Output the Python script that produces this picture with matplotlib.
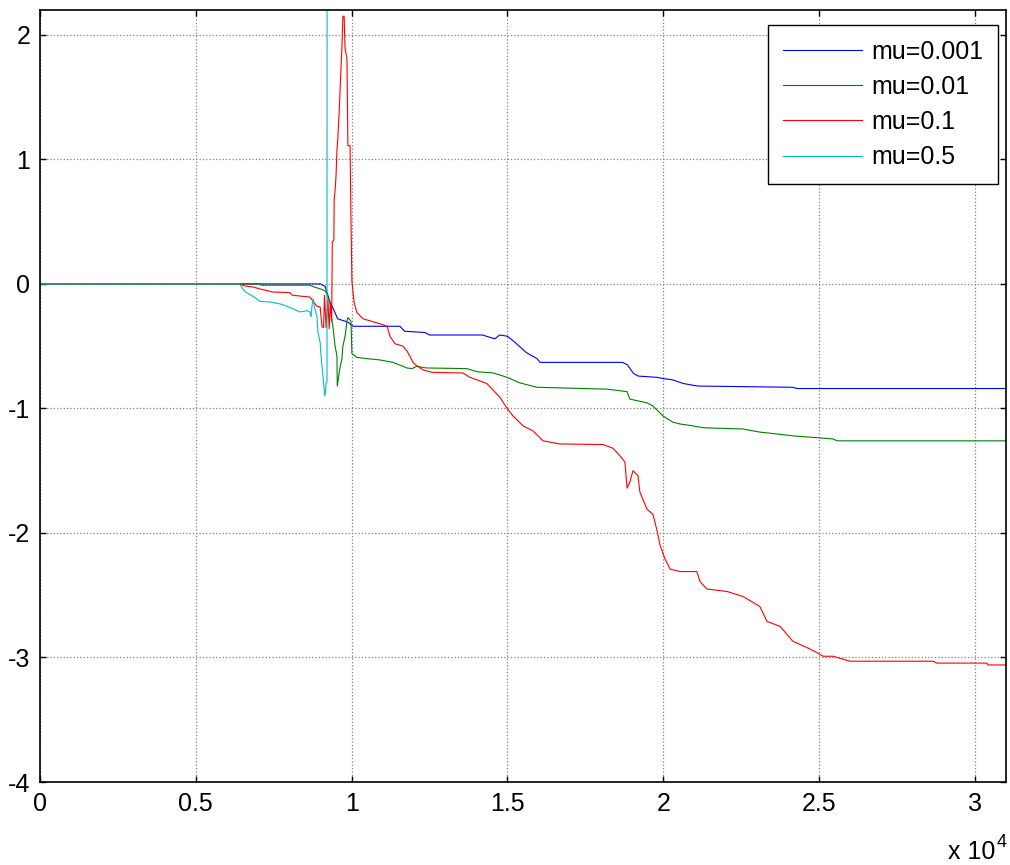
import matplotlib
matplotlib.use("Agg")
import matplotlib.pyplot as plt

plt.rcParams["font.family"] = ["Liberation Sans", "DejaVu Sans"]
plt.rcParams["axes.unicode_minus"] = False

# series (x in samples, y in value)
x_001 = [0, 9000, 9150, 9300, 9450, 9550, 9800, 9900, 10050, 11550, 11700, 12350, 12500,
         14200, 14450, 14600, 14750, 15000, 15200, 15600, 15950, 16050, 18700, 18850, 19050,
         19200, 19800, 20000, 20300, 20650, 21100, 24150, 24300, 31000]
y_001 = [0, 0, -0.02, -0.14, -0.22, -0.28, -0.30, -0.31, -0.34, -0.34, -0.38, -0.39, -0.41,
         -0.41, -0.43, -0.44, -0.41, -0.42, -0.46, -0.55, -0.60, -0.63, -0.63, -0.65, -0.72,
         -0.74, -0.75, -0.76, -0.77, -0.80, -0.82, -0.83, -0.84, -0.84]

x_01 = [0, 7050, 7100, 8650, 8800, 9000, 9150, 9200, 9300, 9370, 9400, 9470, 9530, 9540,
        9620, 9690, 9720, 9790, 9850, 9880, 9980, 10010, 10170, 10500, 10900, 11330, 11780,
        11940, 12100, 12260, 12420, 13700, 14020, 14540, 14990, 15400, 15950, 18200, 18840,
        18930, 19480, 19670, 19990, 20310, 20540, 20960, 21280, 22560, 23100, 23650, 24160,
        25450, 25580, 31000]
y_01 = [0, 0, -0.01, -0.01, -0.025, -0.04, -0.055, -0.08, -0.14, -0.30, -0.34, -0.50, -0.58,
        -0.82, -0.68, -0.60, -0.50, -0.42, -0.30, -0.27, -0.30, -0.56, -0.59, -0.60, -0.61,
        -0.63, -0.675, -0.68, -0.66, -0.67, -0.675, -0.68, -0.705, -0.715, -0.75, -0.795,
        -0.83, -0.845, -0.865, -0.925, -0.955, -0.98, -1.06, -1.11, -1.125, -1.14, -1.155,
        -1.165, -1.19, -1.205, -1.22, -1.245, -1.26, -1.26]

x_1 = [0, 6400, 6550, 6850, 7050, 7480, 8020, 8090, 8440, 8660, 8890, 8990, 9050, 9100,
       9130, 9180, 9240, 9280, 9320, 9360, 9380, 9430, 9440, 9470, 9500, 9530, 9560, 9600,
       9690, 9720, 9760, 9790, 9850, 9880, 9950, 9980, 10010, 10080, 10170, 10370, 10910,
       11140, 11230, 11390, 11650, 11780, 11870, 11970, 12100, 12290, 12580, 13570, 13800,
       14340, 14760, 14990, 15180, 15500, 15820, 16140, 16690, 18070, 18390, 18610, 18770,
       18840, 18930, 19030, 19190, 19250, 19480, 19670, 19800, 19900, 20060, 20220, 20540,
       21080, 21180, 21400, 22050, 22560, 23100, 23330, 23750, 24160, 24610, 24930, 25130,
       25450, 25990, 28660, 28780, 30390, 30420, 31000]
y_1 = [0, 0, -0.015, -0.025, -0.04, -0.065, -0.07, -0.09, -0.10, -0.105, -0.18, -0.185,
       -0.345, -0.35, -0.09, -0.35, -0.12, -0.36, -0.15, -0.30, 0.34, 0.35, 0.68, 0.75, 0.87,
       1.08, 1.18, 1.38, 1.91, 2.15, 2.15, 1.89, 1.81, 1.11, 1.11, 0.50, 0.02, -0.15, -0.23,
       -0.28, -0.32, -0.34, -0.42, -0.48, -0.50, -0.54, -0.58, -0.63, -0.66, -0.69, -0.71,
       -0.715, -0.75, -0.80, -0.91, -1.00, -1.06, -1.14, -1.18, -1.26, -1.285, -1.29, -1.32,
       -1.38, -1.43, -1.64, -1.59, -1.50, -1.54, -1.67, -1.81, -1.85, -1.98, -2.10, -2.21,
       -2.29, -2.31, -2.31, -2.39, -2.45, -2.47, -2.51, -2.59, -2.71, -2.75, -2.87, -2.92,
       -2.96, -2.99, -2.99, -3.03, -3.03, -3.045, -3.045, -3.06, -3.06]

x_5 = [0, 6400, 6510, 6600, 6840, 7060, 7380, 7700, 7930, 8120, 8340, 8570, 8660, 8700,
       8730, 8760, 8820, 8890, 8920, 8990, 9020, 9080, 9140, 9170, 9180, 9210, 9220]
y_5 = [0, 0, -0.04, -0.065, -0.10, -0.14, -0.145, -0.16, -0.18, -0.20, -0.225, -0.215,
       -0.225, -0.265, -0.175, -0.12, -0.20, -0.265, -0.39, -0.47, -0.58, -0.74, -0.90,
       -0.85, -0.79, -0.79, 10.0]

labels = ["mu=0.001", "mu=0.01", "mu=0.1", "mu=0.5"]
xtick_vals = [0, 5000, 10000, 15000, 20000, 25000, 30000]
xtick_labels = ["0", "0.5", "1", "1.5", "2", "2.5", "3"]
ytick_vals = [-4, -3, -2, -1, 0, 1, 2]

FS = 18

fig = plt.figure(figsize=(10.1, 8.65), dpi=100)
ax = fig.add_axes([40 / 1010, 1 - 782 / 865, 966 / 1010, 772 / 865])

colors = ["#0000ff", "#008000", "#ff0000", "#00bfbf"]
for (xs, ys), c, lab in zip([(x_001, y_001), (x_01, y_01), (x_1, y_1), (x_5, y_5)], colors, labels):
    ax.plot(xs, ys, color=c, lw=0.8, label=lab)

ax.set_xlim(0, 31000)
ax.set_ylim(-4, 2.2)
ax.set_xticks(xtick_vals)
ax.set_xticklabels(xtick_labels)
ax.set_yticks(ytick_vals)
ax.set_yticklabels([str(v) for v in ytick_vals])
ax.tick_params(direction="in", top=True, right=True, length=4, width=1,
               labelsize=FS, pad=7)
ax.grid(True, color="#808080", linestyle=":", linewidth=0.9)
for sp in ax.spines.values():
    sp.set_linewidth(1.2)

leg = ax.legend(loc="upper right", bbox_to_anchor=(0.992, 0.981), borderaxespad=0,
                fontsize=FS, fancybox=False, framealpha=1, edgecolor="black",
                handlelength=3.15, handletextpad=0.36, labelspacing=0.45, borderpad=0.6)
leg.get_frame().set_linewidth(1.0)

fig.text(948 / 1010, 1 - 859 / 865, "x 10", fontsize=FS, ha="left", va="baseline")
fig.text(997 / 1010, 1 - 847 / 865, "4", fontsize=FS * 0.72, ha="left", va="baseline")

fig.savefig("out.png", dpi=100)
